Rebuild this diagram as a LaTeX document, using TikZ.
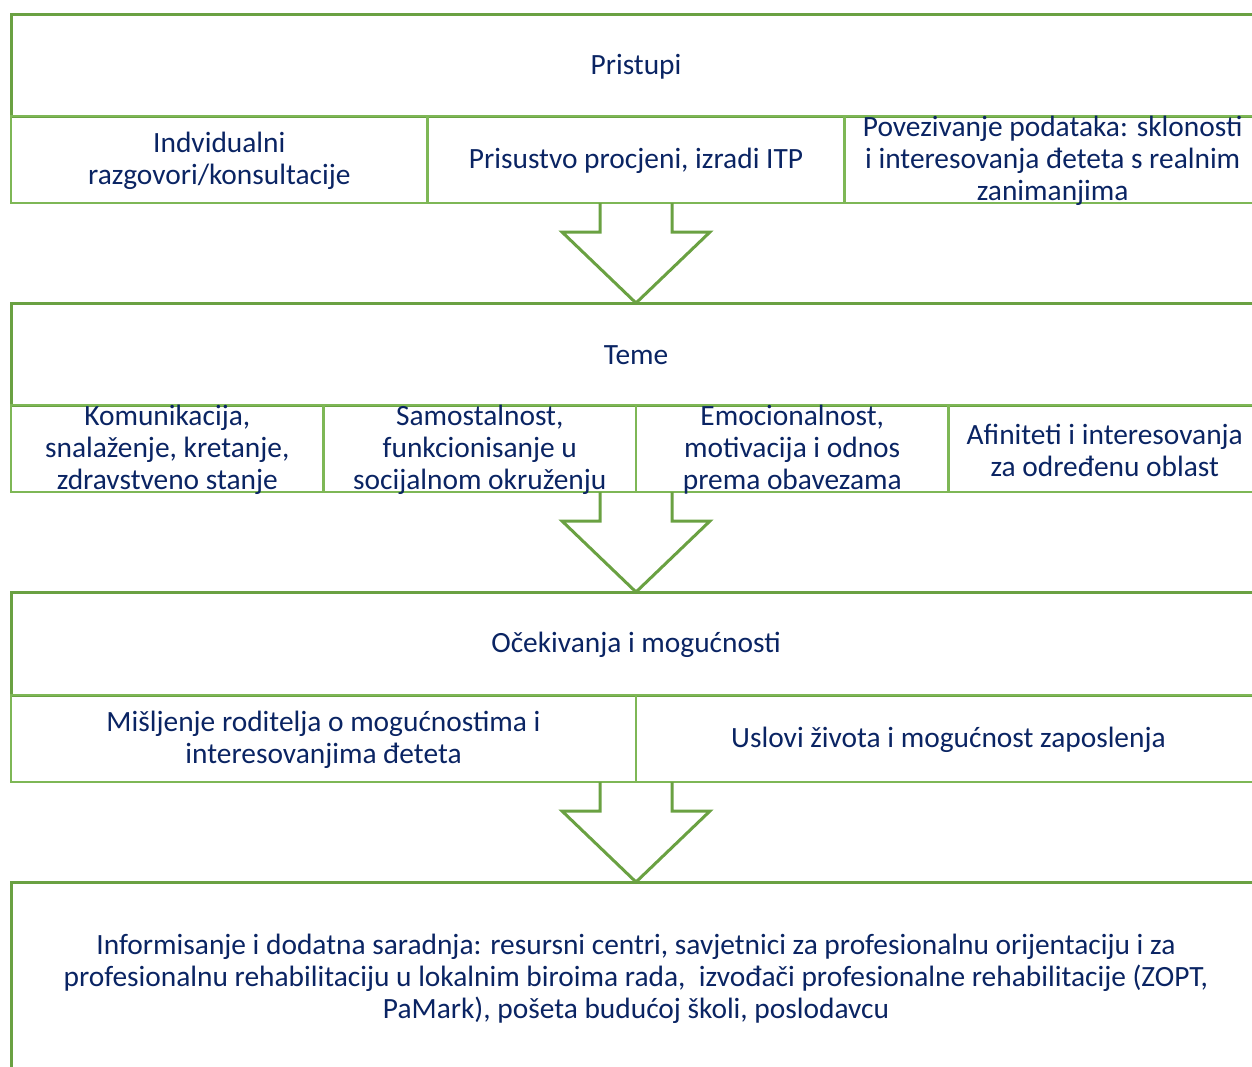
\documentclass[tikz,border=0pt]{standalone}
\usepackage{fontspec}
\setmainfont{Carlito}
\usetikzlibrary{calc}

\definecolor{grnD}{RGB}{106,161,66}
\definecolor{grnL}{RGB}{126,183,86}
\definecolor{navy}{RGB}{10,36,99}

% block arrow: #1 top of shaft, #2 tip
\newcommand{\blockarrow}[2]{%
  \draw[blk] ($(#1)+(-36,0)$) -- ++(0,29) -- ++(-38,0) -- (#2)
    -- ($(#1)+(74,29)$) -- ++(-38,0) -- ++(0,-29);}

\begin{document}
\begin{tikzpicture}[x=1pt,y=-1pt,
    hdr/.style={draw=grnD,line width=3pt,anchor=north west,inner sep=0pt,
      outer sep=0pt,minimum width=1250pt},
    cell/.style={draw=grnL,line width=2.8pt,anchor=north west,inner sep=0pt,
      outer sep=0pt,minimum height=87pt},
    lbl/.style={text=navy,align=center,inner sep=0pt,yshift=-1.5pt,
      font=\fontsize{29.4}{32}\selectfont},
    blk/.style={draw=grnD,line width=3pt,line join=miter}]
  \useasboundingbox (0,0) rectangle (1252,1066);
  \clip (0,0) rectangle (1252,1066);

  % Pristupi
  \node[hdr,minimum height=102pt] (pristupi) at (11,14) {};
  \node[cell,minimum width=416.67pt] (razgovori) at (pristupi.south west) {};
  \node[cell,minimum width=416.67pt] (procjena) at (razgovori.north east) {};
  \node[cell,minimum width=416.67pt] (podaci) at (procjena.north east) {};
  \node[lbl] (pristupiT) at (pristupi) {Pristupi};
  \node[lbl] (razgovoriT) at (razgovori) {Indvidualni\\razgovori/konsultacije};
  \node[lbl] (procjenaT) at (procjena) {Prisustvo procjeni, izradi ITP};
  \node[lbl] (podaciT) at (podaci) {Povezivanje podataka: sklonosti\\
    i interesovanja đeteta s realnim\\zanimanjima};

  % Teme
  \node[hdr,minimum height=102pt] (teme) at (11,303) {};
  \node[cell,minimum width=312.5pt] (komunikacija) at (teme.south west) {};
  \node[cell,minimum width=312.5pt] (samostalnost) at (komunikacija.north east) {};
  \node[cell,minimum width=312.5pt] (emocije) at (samostalnost.north east) {};
  \node[cell,minimum width=312.5pt] (afiniteti) at (emocije.north east) {};
  \node[lbl] (temeT) at (teme) {Teme};
  \node[lbl] (komunikacijaT) at (komunikacija) {Komunikacija,\\
    snalaženje, kretanje,\\zdravstveno stanje};
  \node[lbl] (samostalnostT) at (samostalnost) {Samostalnost,\\
    funkcionisanje u\\socijalnom okruženju};
  \node[lbl] (emocijeT) at (emocije) {Emocionalnost,\\
    motivacija i odnos\\prema obavezama};
  \node[lbl] (afinitetiT) at (afiniteti) {Afiniteti i interesovanja\\
    za određenu oblast};

  % Ocekivanja
  \node[hdr,minimum height=103pt] (ocekivanja) at (11,592) {};
  \node[cell,minimum width=625pt] (misljenje) at (ocekivanja.south west) {};
  \node[cell,minimum width=625pt] (uslovi) at (misljenje.north east) {};
  \node[lbl] (ocekivanjaT) at (ocekivanja) {Očekivanja i mogućnosti};
  \node[lbl] (misljenjeT) at (misljenje) {Mišljenje roditelja o mogućnostima i\\
    interesovanjima đeteta};
  \node[lbl] (usloviT) at (uslovi) {Uslovi života i mogućnost zaposlenja};

  % Informisanje
  \node[hdr,minimum height=300pt] (info) at (11,882) {};
  \node[lbl] (infoT) at ($(info.north)+(0,95)$) {Informisanje i dodatna saradnja:
    resursni centri, savjetnici za profesionalnu orijentaciju i za\\
    profesionalnu rehabilitaciju u lokalnim biroima rada,~ izvođači
    profesionalne rehabilitacije (ZOPT,\\PaMark), pošeta budućoj školi, poslodavcu};

  % arrows
  \coordinate (top1) at (teme.north |- procjena.south);
  \coordinate (top2) at (ocekivanja.north |- komunikacija.south);
  \coordinate (top3) at (info.north |- uslovi.south);
  \blockarrow{top1}{teme.north}
  \blockarrow{top2}{ocekivanja.north}
  \blockarrow{top3}{info.north}
\end{tikzpicture}
\end{document}
